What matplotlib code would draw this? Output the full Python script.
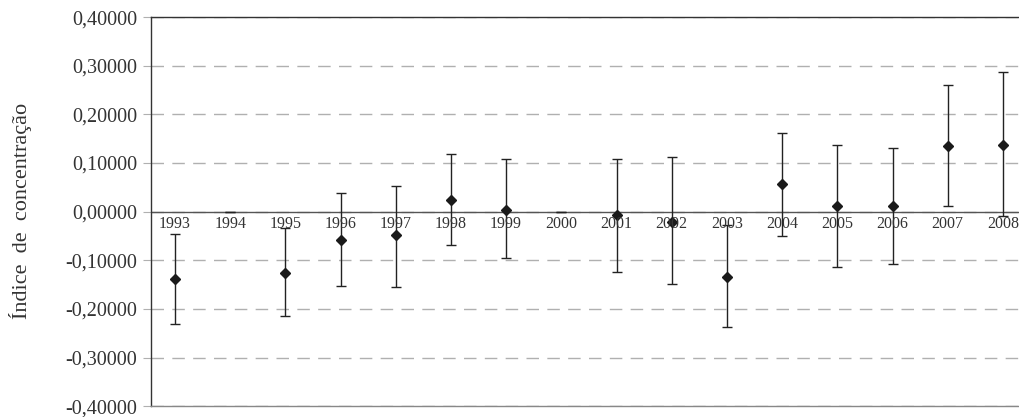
import matplotlib
matplotlib.use("Agg")
import matplotlib.pyplot as plt
import numpy as np

plt.rcParams['font.family'] = ['Liberation Serif', 'DejaVu Serif']

# data
years = ['1993', '1994', '1995', '1996', '1997', '1998', '1999', '2000',
         '2001', '2002', '2003', '2004', '2005', '2006', '2007', '2008']
index_value = [-0.139, np.nan, -0.127, -0.058, -0.048, 0.024, 0.003, np.nan,
               -0.007, -0.022, -0.135, 0.056, 0.011, 0.011, 0.135, 0.137]
upper_bound = [-0.046, 0.0, -0.034, 0.039, 0.052, 0.118, 0.109, 0.0,
               0.109, 0.112, -0.027, 0.162, 0.137, 0.130, 0.260, 0.288]
lower_bound = [-0.231, 0.0, -0.215, -0.153, -0.155, -0.068, -0.096, 0.0,
               -0.124, -0.149, -0.238, -0.050, -0.113, -0.108, 0.011, -0.009]

x = np.arange(len(years))
val = np.array(index_value)
up = np.array(upper_bound)
lo = np.array(lower_bound)
mid = np.where(np.isnan(val), up, val)

fig = plt.figure(figsize=(10.2, 4.17), dpi=100)
ax = fig.add_axes([0.148, 0.026, 0.852, 0.933])

# error bars (low-high) and diamond markers
ax.errorbar(x, mid, yerr=[mid - lo, up - mid], fmt='none', ecolor='#222222',
            elinewidth=1.0, capsize=3.6, capthick=1.0, zorder=3)
ax.plot(x, val, linestyle='none', marker='D', markersize=5.4,
        color='#1a1a1a', zorder=4)

ax.axhline(0, color='#555555', linewidth=1.0, zorder=2)

ax.set_ylim(-0.4, 0.4)
ax.set_xlim(-0.435, 15.31)
ticks = np.arange(-0.4, 0.41, 0.1)
ax.set_yticks(ticks)
ax.set_yticklabels([('%.5f' % v).replace('.', ',').replace('-0,00000', '0,00000')
                    for v in ticks])
ax.yaxis.grid(True, linestyle=(0, (9, 6)), color='#b0b0b0', linewidth=1.0)
ax.set_axisbelow(True)
ax.tick_params(axis='y', length=6, color='#b0b0b0', labelsize=14.5,
               labelcolor='#333333', pad=4)
ax.set_xticks([])

for xi, yr in zip(x, years):
    ax.text(xi, -0.008, yr, ha='center', va='top', fontsize=11.5,
            color='#333333', zorder=5)

ax.spines['right'].set_visible(False)
ax.spines['left'].set_color('#333333')
ax.spines['top'].set_color('#333333')
ax.spines['bottom'].set_color('#888888')
for s in ['left', 'top', 'bottom']:
    ax.spines[s].set_linewidth(1.0)

fig.text(0.02, 0.495, 'Índice  de  concentração', rotation=90, ha='center',
         va='center', fontsize=16, color='#333333')

fig.savefig('out.png', dpi=100)
